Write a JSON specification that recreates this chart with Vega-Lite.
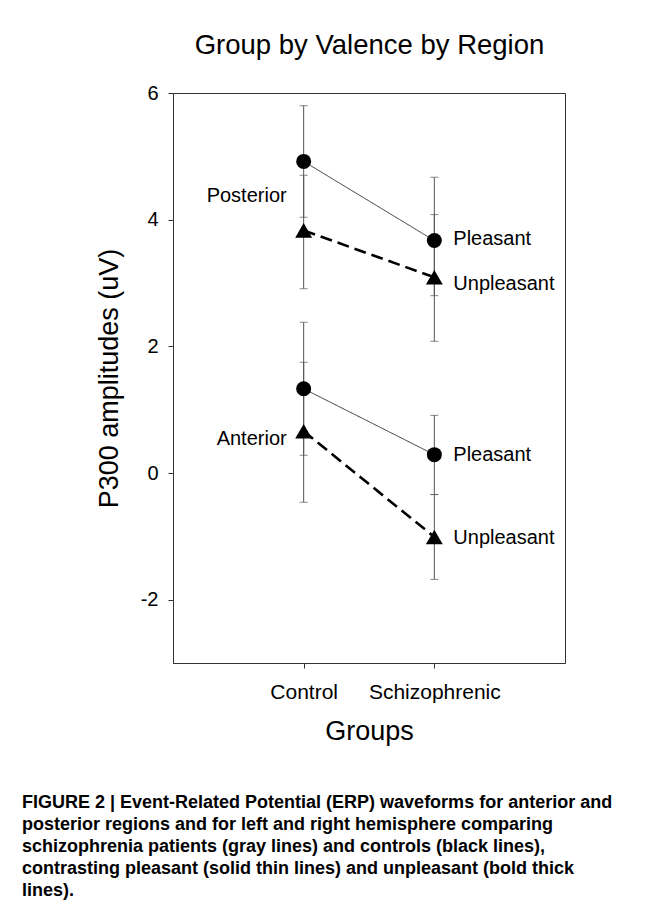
{
  "$schema": "https://vega.github.io/schema/vega-lite/v6.json",
  "width": 392,
  "height": 570,
  "autosize": {"type": "none"},
  "padding": {"left": 173, "top": 93, "right": 86, "bottom": 254},
  "background": "white",
  "config": {
    "view": {"stroke": "#333", "strokeWidth": 1},
    "font": "Liberation Sans",
    "axis": {"grid": false, "domainColor": "#333", "tickColor": "#333", "labelColor": "#000", "titleColor": "#000", "titleFontWeight": "normal", "labelFont": "Liberation Sans", "titleFont": "Liberation Sans"}
  },
  "title": {
    "text": [
      "FIGURE 2 | Event-Related Potential (ERP) waveforms for anterior and",
      "posterior regions and for left and right hemisphere comparing",
      "schizophrenia patients (gray lines) and controls (black lines),",
      "contrasting pleasant (solid thin lines) and unpleasant (bold thick",
      "lines)."
    ],
    "orient": "bottom",
    "anchor": "start",
    "frame": "group",
    "dx": -151,
    "offset": 50,
    "fontSize": 18,
    "fontWeight": "bold",
    "lineHeight": 22,
    "color": "#000",
    "font": "Liberation Sans"
  },
  "datasets": {
    "points": [
      {"region": "Posterior", "valence": "Pleasant", "group": "Control", "mean": 4.92, "lower": 4.04, "upper": 5.80},
      {"region": "Posterior", "valence": "Pleasant", "group": "Schizophrenic", "mean": 3.67, "lower": 2.80, "upper": 4.67},
      {"region": "Posterior", "valence": "Unpleasant", "group": "Control", "mean": 3.83, "lower": 2.91, "upper": 4.70},
      {"region": "Posterior", "valence": "Unpleasant", "group": "Schizophrenic", "mean": 3.09, "lower": 2.08, "upper": 4.08},
      {"region": "Anterior", "valence": "Pleasant", "group": "Control", "mean": 1.33, "lower": 0.28, "upper": 2.38},
      {"region": "Anterior", "valence": "Pleasant", "group": "Schizophrenic", "mean": 0.29, "lower": -0.34, "upper": 0.91},
      {"region": "Anterior", "valence": "Unpleasant", "group": "Control", "mean": 0.66, "lower": -0.46, "upper": 1.75},
      {"region": "Anterior", "valence": "Unpleasant", "group": "Schizophrenic", "mean": -1.01, "lower": -1.68, "upper": -0.34}
    ],
    "regionLabels": [
      {"group": "Control", "value": 4.37, "label": "Posterior"},
      {"group": "Control", "value": 0.54, "label": "Anterior"}
    ],
    "valenceLabels": [
      {"group": "Schizophrenic", "value": 3.69, "label": "Pleasant"},
      {"group": "Schizophrenic", "value": 2.99, "label": "Unpleasant"},
      {"group": "Schizophrenic", "value": 0.28, "label": "Pleasant"},
      {"group": "Schizophrenic", "value": -1.03, "label": "Unpleasant"}
    ]
  },
  "layer": [
    {
      "data": {"name": "points"},
      "mark": {"type": "errorbar", "ticks": {"size": 8}, "thickness": 1, "color": "#555"},
      "encoding": {
        "x": {"field": "group", "type": "nominal", "scale": {"type": "point", "domain": ["Control", "Schizophrenic"], "padding": 1}, "axis": null},
        "y": {"field": "lower", "type": "quantitative", "scale": {"domain": [-3, 6], "nice": false, "zero": false}, "title": "P300 amplitudes (uV)",
          "axis": {"values": [-2, 0, 2, 4, 6], "labelExpr": "'' + datum.value", "labelFontSize": 20, "titleFontSize": 27, "tickSize": 5, "labelPadding": 10, "titlePadding": 17}},
        "y2": {"field": "upper"}
      }
    },
    {
      "data": {"name": "points"},
      "mark": {"type": "line"},
      "encoding": {
        "x": {"field": "group", "type": "nominal", "scale": {"type": "point", "domain": ["Control", "Schizophrenic"], "padding": 1}, "axis": null},
        "y": {"field": "mean", "type": "quantitative", "title": "P300 amplitudes (uV)"},
        "detail": {"field": "region"},
        "strokeDash": {"field": "valence", "scale": {"domain": ["Pleasant", "Unpleasant"], "range": [[1, 0], [12, 6]]}, "legend": null},
        "strokeWidth": {"field": "valence", "scale": {"domain": ["Pleasant", "Unpleasant"], "range": [1, 2.6]}, "legend": null},
        "color": {"field": "valence", "scale": {"domain": ["Pleasant", "Unpleasant"], "range": ["#333", "#000"]}, "legend": null}
      }
    },
    {
      "data": {"name": "points"},
      "mark": {"type": "point", "filled": true, "opacity": 1, "color": "#000"},
      "encoding": {
        "x": {"field": "group", "type": "nominal", "scale": {"type": "point", "domain": ["Control", "Schizophrenic"], "padding": 1},
          "axis": {"orient": "bottom", "title": "Groups", "labelAngle": 0, "labelFontSize": 21, "titleFontSize": 27, "tickSize": 5, "labelPadding": 13, "titlePadding": 16}},
        "y": {"field": "mean", "type": "quantitative", "title": "P300 amplitudes (uV)"},
        "shape": {"field": "valence", "scale": {"domain": ["Pleasant", "Unpleasant"], "range": ["circle", "triangle-up"]}, "legend": null},
        "size": {"field": "valence", "scale": {"domain": ["Pleasant", "Unpleasant"], "range": [225, 285]}, "legend": null}
      }
    },
    {
      "data": {"name": "regionLabels"},
      "mark": {"type": "text", "align": "right", "baseline": "middle", "dx": -17, "fontSize": 20, "color": "#000"},
      "encoding": {
        "x": {"field": "group", "type": "nominal", "scale": {"type": "point", "domain": ["Control", "Schizophrenic"], "padding": 1}, "axis": null},
        "y": {"field": "value", "type": "quantitative", "title": "P300 amplitudes (uV)"},
        "text": {"field": "label"}
      }
    },
    {
      "data": {"name": "valenceLabels"},
      "mark": {"type": "text", "align": "left", "baseline": "middle", "dx": 19, "fontSize": 20, "color": "#000"},
      "encoding": {
        "x": {"field": "group", "type": "nominal", "scale": {"type": "point", "domain": ["Control", "Schizophrenic"], "padding": 1},
          "axis": {"orient": "top", "title": "Group by Valence by Region", "titleFontSize": 27.5, "labels": false, "ticks": false, "domain": false, "titlePadding": 34}},
        "y": {"field": "value", "type": "quantitative", "title": "P300 amplitudes (uV)"},
        "text": {"field": "label"}
      }
    }
  ],
  "resolve": {"axis": {"x": "independent"}}
}
